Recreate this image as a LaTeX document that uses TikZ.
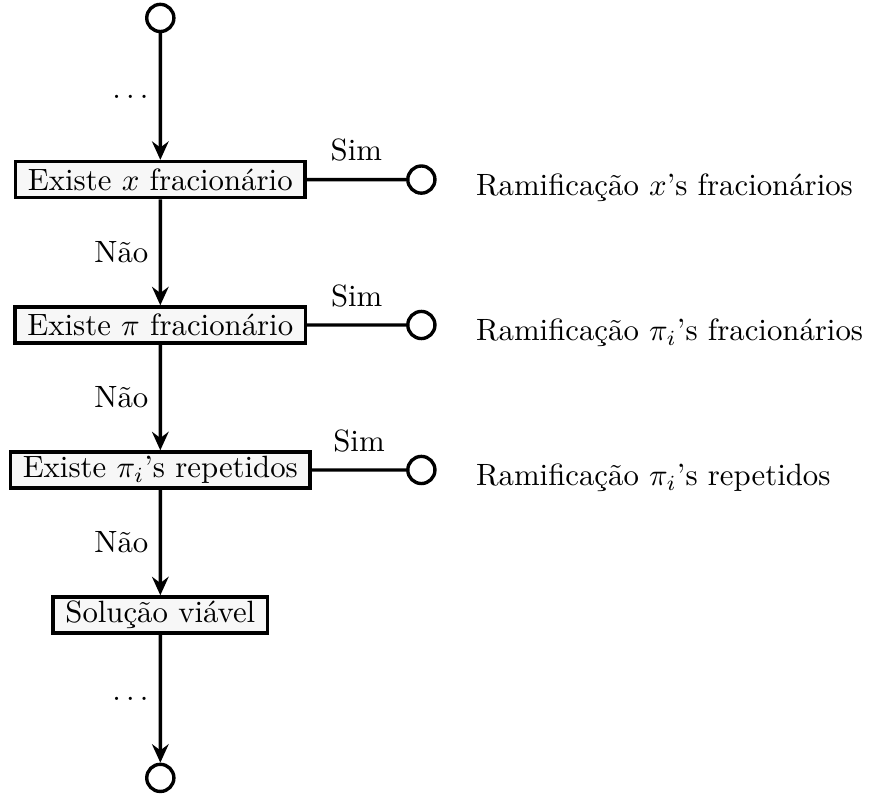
\documentclass[tikz,border=0pt]{standalone}
\usepackage{tikz}
\usepackage{xcolor}
\usetikzlibrary{arrows.meta}

\begin{document}
\begin{tikzpicture}[scale=0.1]
				\tikzset{
					teste/.style={draw, line width=1.1pt, fill=gray!6, minimum height=11.7pt, inner xsep=4pt, inner ysep=1pt},
					no/.style={draw, circle, line width=1.1pt, inner sep=0pt, minimum size=3.1mm},
					seta/.style={line width=1.1pt, -{Stealth[length=6pt,width=5.4pt,inset=2pt]}},
					liga/.style={line width=1.1pt}
				}
				\useasboundingbox (0,0) rectangle (99.2,-90.9);
				\node [no] (topo) at (18.3,-2.05) {};
				\node [teste] (t1) at (18.3,-20.5) {Existe $x$ fracion\'ario};
				\node [teste] (t2) at (18.3,-37.1) {Existe $\pi$ fracion\'ario};
				\node [teste] (t3) at (18.3,-53.65) {Existe $\pi_i$'s repetidos};
				\node [teste] (t4) at (18.3,-70.2) {Solu\c{c}\~ao vi\'avel};
				\node [no] (fim) at (18.3,-88.8) {};
				\node [no] (r1) at (48.1,-20.5) {};
				\node [no] (r2) at (48.1,-37.1) {};
				\node [no] (r3) at (48.1,-53.65) {};
				\node [anchor=west] (n1) at (53.1,-21.4) {Ramifica\c{c}\~ao $x$'s fracion\'arios};
				\node [anchor=west] (n2) at (53.1,-38.0) {Ramifica\c{c}\~ao $\pi_i$'s fracion\'arios};
				\node [anchor=west] (n3) at (53.1,-54.55) {Ramifica\c{c}\~ao $\pi_i$'s repetidos};
				\draw [seta] (topo) -- node [left] {$\dots$} (t1);
				\draw [seta] (t1) -- node [left] {N\~ao} (t2);
				\draw [seta] (t2) -- node [left] {N\~ao} (t3);
				\draw [seta] (t3) -- node [left] {N\~ao} (t4);
				\draw [seta] (t4) -- node [left] {$\dots$} (fim);
				\draw [liga] (t1) -- node [above, yshift=2pt] {Sim} (r1);
				\draw [liga] (t2) -- node [above, yshift=2pt] {Sim} (r2);
				\draw [liga] (t3) -- node [above, yshift=2pt] {Sim} (r3);
			\end{tikzpicture}
\end{document}
